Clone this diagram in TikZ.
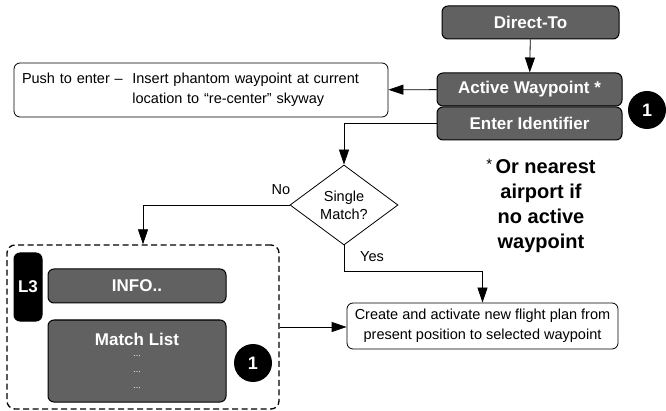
\documentclass[tikz,border=0pt]{standalone}
\usepackage{fontspec}
\setmainfont{Liberation Sans}
\usepackage{xcolor}
\definecolor{ecranGris}{HTML}{616161}
\usepackage{tikz}
\usetikzlibrary{arrows.meta, positioning, shapes.geometric}
\newcommand{\PetitsPoints}{\fontsize{9}{14}\selectfont\mdseries}
\tikzset{
  %% ── Boxes ────────────────────────────────────────────────────────────
  %% Dark keys are the screen soft keys, white boxes are the outcome.
  bloc/.style       = {draw=black, line width=1pt, rounded corners=6pt,
                       fill=ecranGris, text=white, align=center,
                       inner sep=0pt, font=\fontsize{17}{20}\selectfont\bfseries},
  blocNoir/.style   = {bloc, fill=black},
  blocBlanc/.style  = {draw=black, line width=0.8pt, rounded corners=6pt,
                       fill=white, text=black, inner sep=0pt,
                       font=\fontsize{14.5}{20}\selectfont},
  losange/.style    = {diamond, draw=black, line width=0.8pt, aspect=1.35,
                       inner sep=0pt, align=center,
                       font=\fontsize{14.5}{18}\selectfont},
  pastille/.style   = {circle, fill=black, text=white, inner sep=0pt,
                       minimum size=38pt, font=\fontsize{18}{18}\selectfont\bfseries},
  groupe/.style     = {draw=black, line width=1.3pt, rounded corners=8pt,
                       dash pattern=on 6pt off 3.5pt},
  %%
  %% ── Arrows ───────────────────────────────────────────────────────────
  fleche/.style     = {-{Triangle[length=15pt, width=10pt]}, draw=black,
                       line width=0.8pt},
  %%
  %% ── Text ─────────────────────────────────────────────────────────────
  etiquette/.style  = {font=\fontsize{14.5}{18}\selectfont, inner sep=0pt},
  note/.style       = {font=\fontsize{20}{25}\selectfont\bfseries, align=center,
                       inner sep=0pt},
}
\begin{document}
\begin{tikzpicture}[x=1pt, y=-1pt]
\useasboundingbox (0,0) rectangle (666,411);

%% Le menu Direct-To, en haut a droite.
\node[bloc, minimum width=177pt, minimum height=33pt] (dir) at (530.5, 22.5)
     {Direct-To};
\node[bloc, minimum width=185pt, minimum height=33pt] (act) at (529.5, 89.5)
     {Active Waypoint *};
\node[bloc, minimum width=185pt, minimum height=33pt] (ide) at (529.5, 123.5)
     {Enter Identifier};
\node[pastille] (un1) at (647, 110) {1};
\draw[fleche] (dir) -- (act);

\node[blocBlanc, text width=358pt, inner xsep=8pt, minimum height=54pt,
      align=left] (pou) at (201, 90)
     {Push to enter –\ \ Insert phantom waypoint at current\\
      \phantom{Push to enter –\ \ }location to “re-center” skyway};
\draw[fleche] (act) -- (pou);

%% Le test, puis les deux issues.
\node[losange, minimum width=108pt, minimum height=80pt] (sim) at (344, 205)
     {Single\\Match?};
\draw[fleche] (ide.west) -| (sim.north);

\node[groupe, minimum width=272pt, minimum height=164pt] (grp) at (143, 327) {};
\node[blocNoir, minimum width=28pt, minimum height=68pt] (ltr) at (28, 287) {L3};
\node[bloc, minimum width=178pt, minimum height=34pt] (inf) at (137, 286)
     {INFO..};
\node[bloc, minimum width=178pt, minimum height=82pt] (lst) at (137, 361)
     {Match List\\[-9pt]\PetitsPoints ...\\[-4pt]\PetitsPoints ...\\[-4pt]\PetitsPoints ...};
\node[pastille] (un2) at (253, 363) {1};
\draw[fleche] (sim.west) -| (grp.north);
\node[etiquette] (non) at (281, 190) {No};

\node[blocBlanc, minimum width=271pt, minimum height=46pt, align=center]
     (cre) at (482.5, 326)
     {Create and activate new flight plan from\\present position to selected waypoint};
\draw[fleche] (sim.south) -- ++(0, 26) -| (cre.north);
\node[etiquette] (oui) at (372, 257) {Yes};
\draw[fleche] (grp.east) -- (grp.east -| cre.west);

\node[note] (ast) at (541, 206)
     {\raisebox{4pt}{\fontsize{15}{15}\selectfont\mdseries *}\,Or nearest\\
      airport if\\no active\\waypoint};

\end{tikzpicture}
\end{document}
